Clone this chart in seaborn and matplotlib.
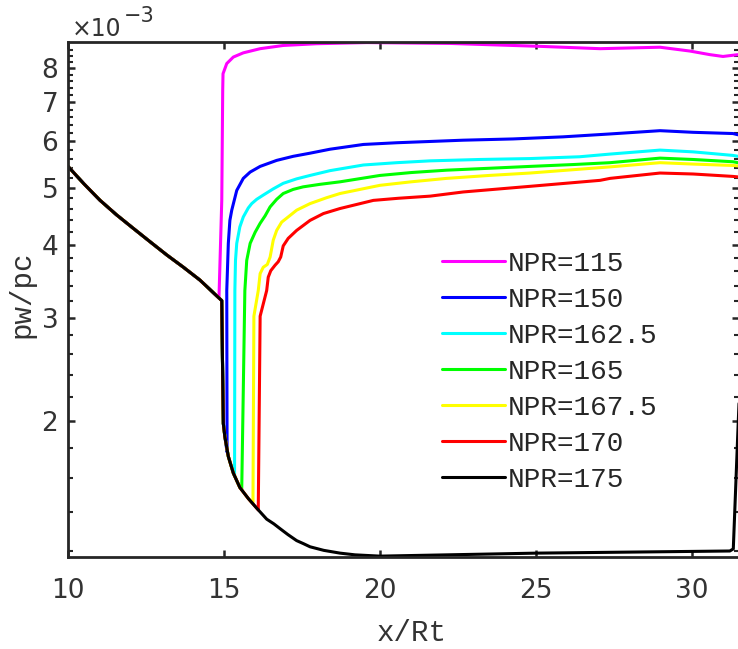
import numpy as np
import pandas as pd
import matplotlib
matplotlib.use("Agg")
import matplotlib.pyplot as plt
import seaborn as sns
from matplotlib.ticker import FixedLocator, FixedFormatter, NullFormatter

# series names and colours (MATLAB style)
labels = ["NPR=115", "NPR=150", "NPR=162.5", "NPR=165", "NPR=167.5", "NPR=170", "NPR=175"]
colors = ["#ff00ff", "#0000ff", "#00ffff", "#00ff00", "#ffff00", "#ff0000", "#000000"]

# common wall pressure upstream of the separation (all NPR share it), pw/pc in 1e-3
upstream_x = [10.0, 10.51, 11.03, 11.55, 12.08, 12.62, 13.17, 13.70, 14.23, 14.93]
upstream_y = [5.44, 5.08, 4.76, 4.50, 4.27, 4.05, 3.84, 3.66, 3.48, 3.21]

# NPR=175 continues along the lower trough
trough_x = [14.95, 14.98, 15.03, 15.14, 15.30, 15.51, 15.78, 16.05, 16.37, 16.60,
            16.80, 17.05, 17.33, 17.55, 17.76, 18.20, 18.72, 19.20, 20.0, 25.04,
            31.22, 31.33, 31.47, 31.55]
trough_y = [2.60, 1.98, 1.88, 1.74, 1.63, 1.54, 1.475, 1.42, 1.36, 1.335,
            1.31, 1.28, 1.25, 1.235, 1.22, 1.203, 1.19, 1.182, 1.176, 1.19,
            1.20, 1.21, 1.88, 2.40]

# branches where each NPR curve leaves the common path
npr115_x = [14.84, 14.93, 14.96, 14.97, 15.09, 15.30, 15.62, 16.16, 16.90, 17.97,
            19.58, 22.25, 25.13, 27.06, 28.98, 29.94, 30.58, 31.0, 31.48]
npr115_y = [3.24, 4.76, 7.34, 7.83, 8.15, 8.36, 8.50, 8.64, 8.75, 8.81,
            8.85, 8.82, 8.72, 8.64, 8.69, 8.56, 8.44, 8.38, 8.44]

npr150_x = [15.10, 15.09, 15.14, 15.19, 15.25, 15.41, 15.62, 15.84, 16.16, 16.69,
            17.22, 17.76, 18.40, 19.47, 20.54, 21.61, 22.66, 24.27, 25.87, 27.38,
            28.98, 30.04, 31.32, 31.48]
npr150_y = [1.77, 3.34, 4.02, 4.40, 4.58, 4.95, 5.19, 5.32, 5.44, 5.57,
            5.66, 5.73, 5.82, 5.93, 5.97, 6.00, 6.03, 6.06, 6.11, 6.18,
            6.26, 6.22, 6.19, 6.16]

npr162_x = [15.34, 15.35, 15.37, 15.41, 15.51, 15.62, 15.78, 15.89, 16.05, 16.26,
            16.58, 16.90, 17.33, 17.76, 18.40, 19.47, 20.54, 21.61, 23.2, 24.81,
            26.4, 27.38, 28.98, 30.04, 31.32, 31.48]
npr162_y = [1.61, 3.34, 3.76, 4.02, 4.29, 4.46, 4.62, 4.70, 4.78, 4.86,
            4.98, 5.09, 5.18, 5.25, 5.35, 5.47, 5.52, 5.56, 5.59, 5.61,
            5.65, 5.71, 5.80, 5.76, 5.68, 5.66]

npr165_x = [15.57, 15.67, 15.73, 15.84, 16.0, 16.16, 16.32, 16.48, 16.69, 16.90,
            17.22, 17.54, 18.08, 18.72, 20.0, 21.0, 22.14, 23.5, 24.81, 26.2,
            27.38, 28.98, 30.04, 31.32, 31.48]
npr165_y = [1.53, 3.34, 3.76, 4.02, 4.20, 4.35, 4.48, 4.64, 4.78, 4.89,
            4.97, 5.02, 5.07, 5.12, 5.25, 5.31, 5.36, 5.40, 5.44, 5.48,
            5.52, 5.62, 5.59, 5.54, 5.52]

npr167_x = [15.93, 15.96, 16.10, 16.16, 16.26, 16.39, 16.48, 16.58, 16.69, 16.85,
            17.06, 17.33, 17.76, 18.29, 18.72, 20.0, 21.0, 22.14, 23.5, 24.81,
            26.2, 27.38, 28.98, 30.04, 31.32, 31.48]
npr167_y = [1.445, 3.02, 3.34, 3.57, 3.66, 3.70, 3.81, 4.07, 4.23, 4.37,
            4.46, 4.58, 4.70, 4.81, 4.89, 5.05, 5.12, 5.19, 5.25, 5.30,
            5.37, 5.43, 5.52, 5.49, 5.46, 5.45]

npr170_x = [16.10, 16.16, 16.37, 16.42, 16.50, 16.64, 16.74, 16.82, 16.90, 17.06,
            17.33, 17.76, 18.19, 18.72, 19.79, 20.6, 21.61, 22.67, 24.81, 27.06,
            27.38, 28.98, 30.04, 31.32, 31.48]
npr170_y = [1.41, 3.02, 3.34, 3.52, 3.61, 3.69, 3.74, 3.81, 3.98, 4.10,
            4.23, 4.40, 4.52, 4.61, 4.76, 4.80, 4.84, 4.92, 5.03, 5.15,
            5.19, 5.30, 5.28, 5.23, 5.22]

branches = [(npr115_x, npr115_y), (npr150_x, npr150_y), (npr162_x, npr162_y),
            (npr165_x, npr165_y), (npr167_x, npr167_y), (npr170_x, npr170_y)]

base_x = upstream_x + trough_x
base_y = upstream_y + trough_y

frames = []
for lab, (bx, by) in zip(labels[:-1], branches):
    px = [x for x in base_x if x < bx[0]]
    py = base_y[:len(px)]
    frames.append(pd.DataFrame({"x": px + bx, "y": py + by, "NPR": lab}))
frames.append(pd.DataFrame({"x": base_x, "y": base_y, "NPR": labels[-1]}))
df = pd.concat(frames, ignore_index=True)

sns.set_style("ticks")
plt.rcParams["font.family"] = ["Liberation Mono", "DejaVu Sans"]
dark = "#262626"
txt = "#333333"

fig = plt.figure(figsize=(7.38, 6.49), dpi=100)
ax = fig.add_axes([68 / 738, (649 - 557) / 649, (738.6 - 68) / 738, (557 - 42) / 649])

sns.lineplot(data=df, x="x", y="y", hue="NPR", hue_order=labels, palette=colors,
             sort=False, estimator=None, linewidth=2.2, ax=ax)

ax.set_yscale("log")
ax.set_xlim(10, 31.5)
ax.set_ylim(1.172, 8.87)

ax.xaxis.set_major_locator(FixedLocator([10, 15, 20, 25, 30]))
ax.yaxis.set_major_locator(FixedLocator([2, 3, 4, 5, 6, 7, 8]))
ax.yaxis.set_major_formatter(FixedFormatter(["2", "3", "4", "5", "6", "7", "8"]))
minor = [1.2, 1.4, 1.6, 1.8, 2.2, 2.4, 2.6, 2.8, 3.2, 3.4, 3.6, 3.8, 4.2, 4.4, 4.6, 4.8,
         5.2, 5.4, 5.6, 5.8, 6.2, 6.4, 6.6, 6.8, 7.2, 7.4, 7.6, 7.8, 8.2, 8.4, 8.6]
ax.yaxis.set_minor_locator(FixedLocator(minor))
ax.yaxis.set_minor_formatter(NullFormatter())
ax.xaxis.set_minor_locator(FixedLocator([]))

for s in ["left", "bottom", "top"]:
    ax.spines[s].set_linewidth(2.0)
    ax.spines[s].set_color(dark)
ax.spines["right"].set_visible(False)

ax.tick_params(which="both", direction="in", top=True, right=True, color=dark,
               labelcolor=txt)
ax.tick_params(which="major", length=5, width=1.8)
ax.tick_params(which="minor", length=3.6, width=1.5)
ax.tick_params(axis="x", pad=15)
ax.tick_params(axis="y", pad=7)
for t in ax.get_xticklabels() + ax.get_yticklabels():
    t.set_family("DejaVu Sans")
    t.set_fontsize(19)

ax.set_xlabel("x/Rt", fontsize=21, color=txt)
ax.set_ylabel("pw/pc", fontsize=21, color=txt)
ax.xaxis.set_label_coords(0.5125, -0.12)
ax.yaxis.set_label_coords(-0.049, 0.511)

fig.text(72 / 738, 1 - 36 / 649, "\u00d710", fontsize=17, family="DejaVu Sans",
         color=txt, ha="left", va="baseline")
fig.text(124 / 738, 1 - 22 / 649, "\u22123", fontsize=15, family="DejaVu Sans",
         color=txt, ha="left", va="baseline")

handles, lbls = ax.get_legend_handles_labels()
ax.legend(handles, lbls, loc="upper left", bbox_to_anchor=(0.557, 0.594), frameon=False,
          fontsize=20, handlelength=2.3, handletextpad=0.1, labelspacing=0.36,
          borderpad=0, borderaxespad=0)

fig.savefig("out.png", dpi=100)
